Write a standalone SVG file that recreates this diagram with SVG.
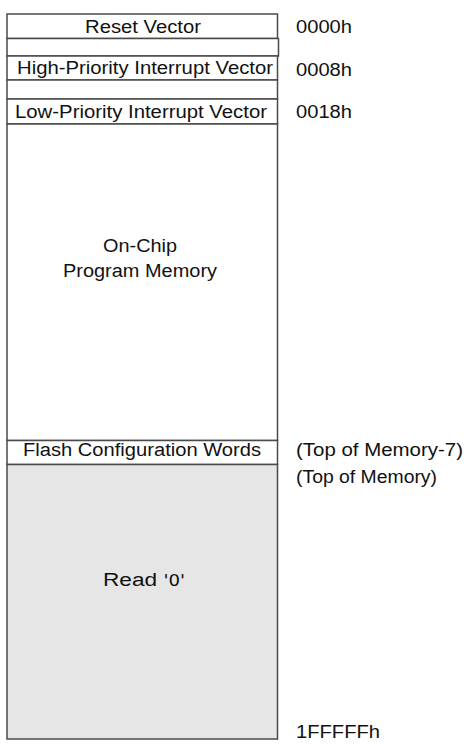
<svg xmlns="http://www.w3.org/2000/svg" width="465" height="745" viewBox="0 0 465 745">
<style>
.b{stroke:#4a4a4a;stroke-width:1.5;fill:#fff}
.g{fill:#e6e6e6}
text{font-family:"Liberation Sans",Arial,sans-serif;font-size:18px;fill:#111}
.c{text-anchor:middle}
</style>
<rect x="0" y="0" width="465" height="745" fill="#fff"/>
<g id="reset"><rect class="b" x="7" y="14" width="270.5" height="24.5"/><text class="c" x="143" y="33" textLength="116" lengthAdjust="spacingAndGlyphs">Reset Vector</text></g>
<g id="gap1"><rect class="b" x="7" y="38.5" width="271.5" height="17.5"/></g>
<g id="high"><rect class="b" x="7" y="56" width="270.5" height="24"/><text class="c" x="145" y="74" textLength="256" lengthAdjust="spacingAndGlyphs">High-Priority Interrupt Vector</text></g>
<g id="gap2"><rect class="b" x="7" y="80" width="270.5" height="19"/></g>
<g id="low"><rect class="b" x="7" y="99" width="270.5" height="25"/><text class="c" x="141" y="118" textLength="252" lengthAdjust="spacingAndGlyphs">Low-Priority Interrupt Vector</text></g>
<g id="prog"><rect class="b" x="7" y="124" width="270.5" height="316.5"/><text class="c" x="140" y="252" textLength="74" lengthAdjust="spacingAndGlyphs">On-Chip</text><text class="c" x="140" y="277" textLength="154" lengthAdjust="spacingAndGlyphs">Program Memory</text></g>
<g id="flash"><rect class="b" x="7" y="440.5" width="270.5" height="24"/><text class="c" x="142" y="456" textLength="238" lengthAdjust="spacingAndGlyphs">Flash Configuration Words</text></g>
<g id="read0"><rect class="b g" x="7" y="464.5" width="270.5" height="274.5"/><text x="103" y="586" textLength="82" lengthAdjust="spacingAndGlyphs">Read <tspan font-family="'DejaVu Sans Condensed','DejaVu Sans',sans-serif" font-size="16">'0'</tspan></text></g>
<g id="addr">
<text x="296" y="33" textLength="56" lengthAdjust="spacingAndGlyphs">0000h</text>
<text x="296" y="76" textLength="56" lengthAdjust="spacingAndGlyphs">0008h</text>
<text x="296" y="118" textLength="56" lengthAdjust="spacingAndGlyphs">0018h</text>
<text x="296" y="456" textLength="167" lengthAdjust="spacingAndGlyphs">(Top of Memory-7)</text>
<text x="296" y="483" textLength="141" lengthAdjust="spacingAndGlyphs">(Top of Memory)</text>
<text x="296" y="738" textLength="84" lengthAdjust="spacingAndGlyphs">1FFFFFh</text>
</g>
<g id="connectors"></g>
</svg>
